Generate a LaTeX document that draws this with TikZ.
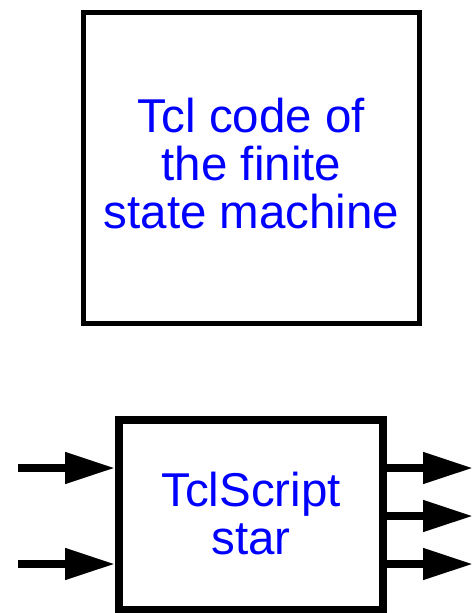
\documentclass[tikz,border=0pt]{standalone}
\usepackage{fontspec}
\setmainfont{Liberation Sans}
\usetikzlibrary{arrows.meta}

\tikzset{
  blocktext/.style={text=blue, align=center, inner sep=0pt,
    font=\fontsize{47.5}{48}\selectfont},
  fsmbox/.style={blocktext, draw=black, line width=5pt, text depth=10pt,
    minimum width=336pt, minimum height=311pt},
  starbox/.style={blocktext, draw=black, line width=8pt, text depth=4pt,
    minimum width=264pt, minimum height=190pt},
  port/.style={line width=8pt, -{Triangle[length=50pt,width=30pt]}}
}

\begin{document}
\begin{tikzpicture}[x=1pt,y=-1pt]
\useasboundingbox (0,0) rectangle (473,613);

\node [fsmbox] (fsm) at (251.5,168) {Tcl code of\\the finite\\state machine};

\node [starbox] (star) at (251,515) {TclScript\\star};

% inputs
\coordinate (in1) at (18,468);
\coordinate (in2) at (18,564);
\draw [port] (in1) -- (in1 -| star.west);
\draw [port] (in2) -- (in2 -| star.west);

% outputs
\coordinate (out1) at (473,468);
\coordinate (out2) at (473,516);
\coordinate (out3) at (473,564);
\draw [port] (out1 -| star.east) -- (out1);
\draw [port] (out2 -| star.east) -- (out2);
\draw [port] (out3 -| star.east) -- (out3);

\end{tikzpicture}
\end{document}
